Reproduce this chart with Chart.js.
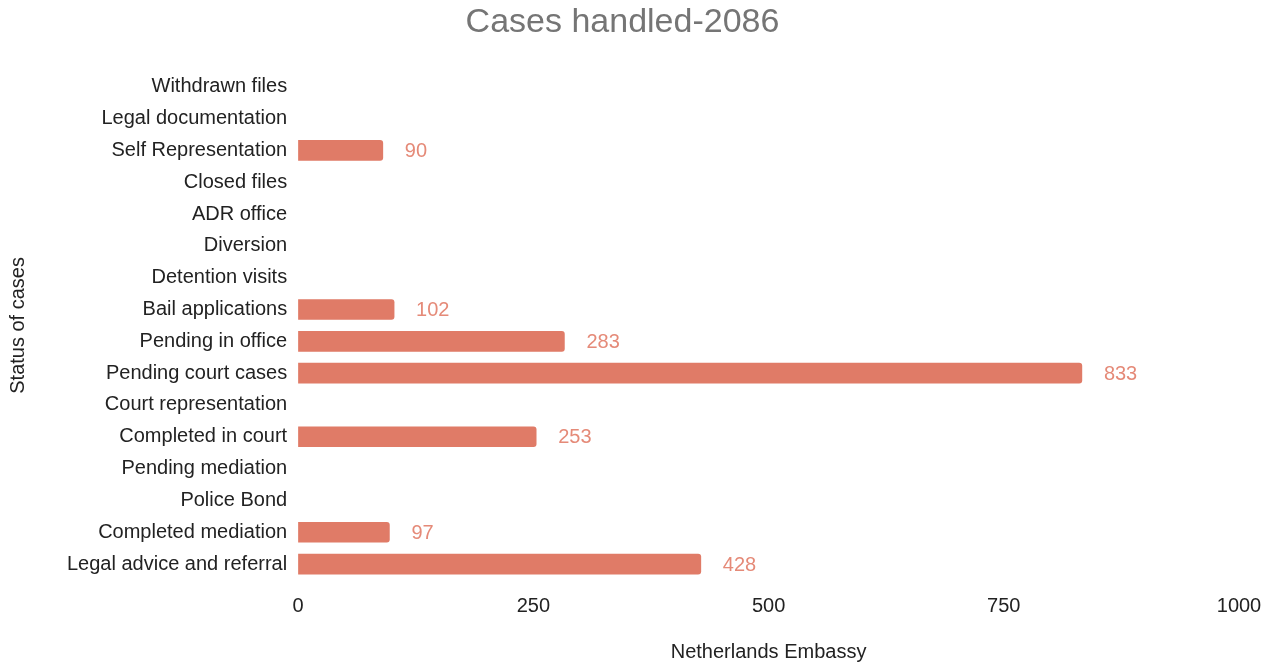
<!DOCTYPE html>
<html>
<head>
<meta charset="utf-8">
<script src="https://cdn.jsdelivr.net/npm/chart.js@4"></script>
<style>
  html, body { margin: 0; padding: 0; background: #fff; }
  #wrap { width: 1278px; height: 667px; }
</style>
</head>
<body>
<div id="wrap"><canvas id="chart" width="1278" height="667"></canvas></div>
<script>
// categories, top to bottom as shown
const categorias = [
  "Withdrawn files",
  "Legal documentation",
  "Self Representation",
  "Closed files",
  "ADR office",
  "Diversion",
  "Detention visits",
  "Bail applications",
  "Pending in office",
  "Pending court cases",
  "Court representation",
  "Completed in court",
  "Pending mediation",
  "Police Bond",
  "Completed mediation",
  "Legal advice and referral"
];
// null = no bar drawn
const casos = [null, null, 90, null, null, null, null, 102, 283, 833, null, 253, null, null, 97, 428];
const ticksX = [0, 250, 500, 750, 1000];

const colorBarra = "#e07b67";
const colorEtiqueta = "#e58a78";
const fuente = "'Liberation Sans', Arial, sans-serif";

// etiquetas de valor a la derecha de cada barra
const etiquetasValor = {
  id: "etiquetasValor",
  afterDatasetsDraw(chart) {
    const ctx = chart.ctx;
    const meta = chart.getDatasetMeta(0);
    ctx.save();
    ctx.font = "20px " + fuente;
    ctx.fillStyle = colorEtiqueta;
    ctx.textAlign = "left";
    ctx.textBaseline = "middle";
    meta.data.forEach((barra, i) => {
      const v = casos[i];
      if (v == null) return;
      ctx.fillText(String(v), barra.x + 22, barra.y + 1);
    });
    ctx.restore();
  }
};

const canvas = document.getElementById("chart");
const ctx = canvas.getContext("2d");

const chart = new Chart(ctx, {
  type: "bar",
  data: {
    labels: categorias,
    datasets: [
      {
        label: "Netherlands Embassy",
        data: casos,
        backgroundColor: colorBarra,
        borderRadius: 3,
        borderSkipped: "start",
        barThickness: 20
      }
    ]
  },
  options: {
    indexAxis: "y",
    responsive: false,
    animation: false,
    layout: { padding: { left: 6, right: 39, top: 0, bottom: 3 } },
    plugins: {
      legend: { display: false },
      tooltip: { enabled: false },
      title: {
        display: true,
        text: "Cases handled-2086",
        color: "#757575",
        font: { family: fuente, size: 34, weight: "normal" },
        padding: { top: 2, bottom: 28 }
      }
    },
    scales: {
      x: {
        min: 0,
        max: 1000,
        afterBuildTicks: (axis) => { axis.ticks = ticksX.map((v) => ({ value: v })); },
        grid: { display: false, drawTicks: false },
        border: { display: false },
        ticks: {
          color: "#222",
          padding: 14,
          callback: (v) => String(v),
          font: { family: fuente, size: 20 }
        },
        title: {
          display: true,
          text: "Netherlands Embassy",
          color: "#222",
          font: { family: fuente, size: 20 },
          padding: { top: 8, bottom: 0 }
        }
      },
      y: {
        grid: { display: false, drawTicks: false },
        border: { display: false },
        ticks: {
          color: "#222",
          padding: 11,
          autoSkip: false,
          font: { family: fuente, size: 20 }
        },
        title: {
          display: true,
          text: "Status of cases",
          color: "#222",
          font: { family: fuente, size: 20 },
          padding: { top: 0, bottom: 26 }
        }
      }
    }
  },
  plugins: [etiquetasValor]
});
</script>
</body>
</html>
